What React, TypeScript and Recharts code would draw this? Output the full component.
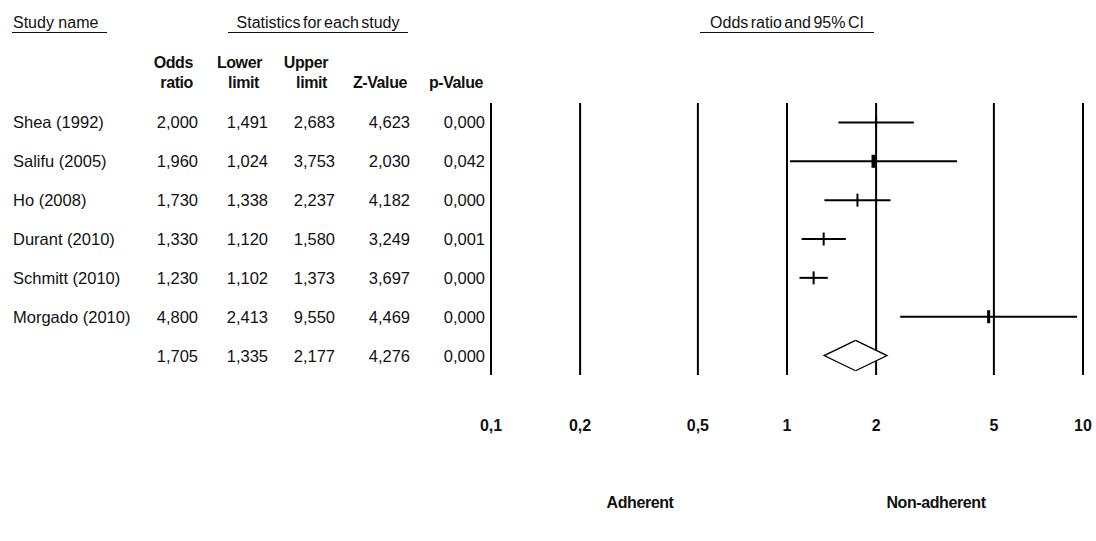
import React from 'react';
import { ScatterChart, Scatter, XAxis, YAxis, ErrorBar, ReferenceLine, ReferenceArea } from 'recharts';

// forest plot data (last row = overall effect)
const studies = ['Shea (1992)', 'Salifu (2005)', 'Ho (2008)', 'Durant (2010)', 'Schmitt (2010)', 'Morgado (2010)', ''];
const oddsRatio = [2.0, 1.96, 1.73, 1.33, 1.23, 4.8, 1.705];
const lowerLimit = [1.491, 1.024, 1.338, 1.12, 1.102, 2.413, 1.335];
const upperLimit = [2.683, 3.753, 2.237, 1.58, 1.373, 9.55, 2.177];
const zValue = [4.623, 2.03, 4.182, 3.249, 3.697, 4.469, 4.276];
const pValue = [0.0, 0.042, 0.0, 0.001, 0.0, 0.0, 0.0];
const axisTicks = [0.1, 0.2, 0.5, 1, 2, 5, 10];

const font = '"Liberation Sans", Arial, sans-serif';
const ink = '#111';

const rows = studies.map((name, i) => ({
  name,
  row: i + 0.5,
  or: oddsRatio[i],
  lower: lowerLimit[i],
  upper: upperLimit[i],
  err: [oddsRatio[i] - lowerLimit[i], upperLimit[i] - oddsRatio[i]],
}));
const studyRows = rows.slice(0, rows.length - 1);
const summary = rows[rows.length - 1];

const fmt = (v: number) => v.toFixed(3).replace('.', ',');

// right edges of the numeric columns
const colRight = [198, 268, 335, 410, 485];
const markerWidth = [2, 4, 2, 2, 2, 3];
const DIAMOND_HALF = 0.39;

const RowTick = (props: any) => {
  const { y, payload } = props;
  const i = Math.floor(payload.value);
  const vals = [oddsRatio[i], lowerLimit[i], upperLimit[i], zValue[i], pValue[i]];
  return (
    <g fontFamily={font} fontSize={16.5} fill={ink}>
      <text x={13} y={y + 6}>{studies[i]}</text>
      {vals.map((v, k) => (
        <text key={k} x={colRight[k]} y={y + 6} textAnchor="end">{fmt(v)}</text>
      ))}
    </g>
  );
};

const AxisTick = (props: any) => {
  const { x, y, payload } = props;
  return (
    <text x={x} y={y + 56} textAnchor="middle" fontFamily={font} fontSize={16} fontWeight="bold" fill={ink}>
      {String(payload.value).replace('.', ',')}
    </text>
  );
};

const Marker = (props: any) => {
  const { cx, cy, payload } = props;
  const i = studies.indexOf(payload.name);
  const w = markerWidth[i] ?? 2;
  return <rect x={cx - w / 2} y={cy - 6.5} width={w} height={13} fill="#000" />;
};

const LeftHalf = (p: any) => {
  const { x, y, width: w, height: h } = p;
  const pts = `${x + w},${y} ${x},${y + h / 2} ${x + w},${y + h}`;
  return (
    <g>
      <polygon points={pts} fill="#fff" stroke="none" />
      <polyline points={pts} fill="none" stroke="#000" strokeWidth={1.3} />
    </g>
  );
};

const RightHalf = (p: any) => {
  const { x, y, width: w, height: h } = p;
  const pts = `${x},${y} ${x + w},${y + h / 2} ${x},${y + h}`;
  return (
    <g>
      <polygon points={pts} fill="#fff" stroke="none" />
      <polyline points={pts} fill="none" stroke="#000" strokeWidth={1.3} />
    </g>
  );
};

export default function App() {
  return (
    <div style={{ position: 'absolute', left: 0, top: 0, width: 1096, height: 541, background: '#fff' }}>
      <ScatterChart width={1096} height={541} margin={{ top: 103, right: 13, bottom: 106, left: 11 }}>
        <XAxis
          type="number"
          dataKey="or"
          scale="log"
          domain={[0.1, 10]}
          ticks={axisTicks}
          interval={0}
          allowDataOverflow
          axisLine={false}
          tickLine={false}
          tickSize={0}
          tickMargin={0}
          height={60}
          tick={<AxisTick />}
        />
        <YAxis
          type="number"
          dataKey="row"
          domain={[0, studies.length]}
          reversed
          ticks={rows.map(r => r.row)}
          interval={0}
          width={480}
          axisLine={false}
          tickLine={false}
          tick={<RowTick />}
        />
        {axisTicks.map(v => (
          <ReferenceLine key={v} x={v} stroke="#000" strokeWidth={2} ifOverflow="visible" />
        ))}
        <Scatter data={studyRows} fill="#000" shape={<Marker />} isAnimationActive={false}>
          <ErrorBar dataKey="err" direction="x" width={0} stroke="#000" strokeWidth={2} />
        </Scatter>
        <ReferenceArea
          x1={summary.lower}
          x2={summary.or}
          y1={summary.row - DIAMOND_HALF}
          y2={summary.row + DIAMOND_HALF}
          shape={LeftHalf}
          ifOverflow="visible"
          zIndex={700}
        />
        <ReferenceArea
          x1={summary.or}
          x2={summary.upper}
          y1={summary.row - DIAMOND_HALF}
          y2={summary.row + DIAMOND_HALF}
          shape={RightHalf}
          ifOverflow="visible"
          zIndex={700}
        />
      </ScatterChart>
      <svg width={1096} height={541} style={{ position: 'absolute', left: 0, top: 0, pointerEvents: 'none' }}>
        <g fontFamily={font} fill={ink}>
          <text x={13} y={28} fontSize={16}>Study name</text>
          <line x1={12} x2={107} y1={32.5} y2={32.5} stroke={ink} strokeWidth={1} />
          <text x={318} y={28} fontSize={16} textAnchor="middle" wordSpacing={-2}>Statistics for each study</text>
          <line x1={228} x2={408} y1={32.5} y2={32.5} stroke={ink} strokeWidth={1} />
          <text x={787} y={28} fontSize={16} textAnchor="middle" wordSpacing={-2}>Odds ratio and 95% CI</text>
          <line x1={700} x2={874} y1={32.5} y2={32.5} stroke={ink} strokeWidth={1} />
          <g fontSize={16} fontWeight="bold" textAnchor="end" letterSpacing={-0.4}>
            <text x={193} y={68}>Odds</text>
            <text x={193} y={88}>ratio</text>
            <text x={262} y={68}>Lower</text>
            <text x={259} y={88}>limit</text>
            <text x={328} y={68}>Upper</text>
            <text x={327} y={88}>limit</text>
            <text x={407} y={88}>Z-Value</text>
            <text x={483} y={88}>p-Value</text>
          </g>
          <g fontSize={16} fontWeight="bold" textAnchor="middle" letterSpacing={-0.4}>
            <text x={640} y={508}>Adherent</text>
            <text x={936} y={508}>Non-adherent</text>
          </g>
        </g>
      </svg>
    </div>
  );
}
